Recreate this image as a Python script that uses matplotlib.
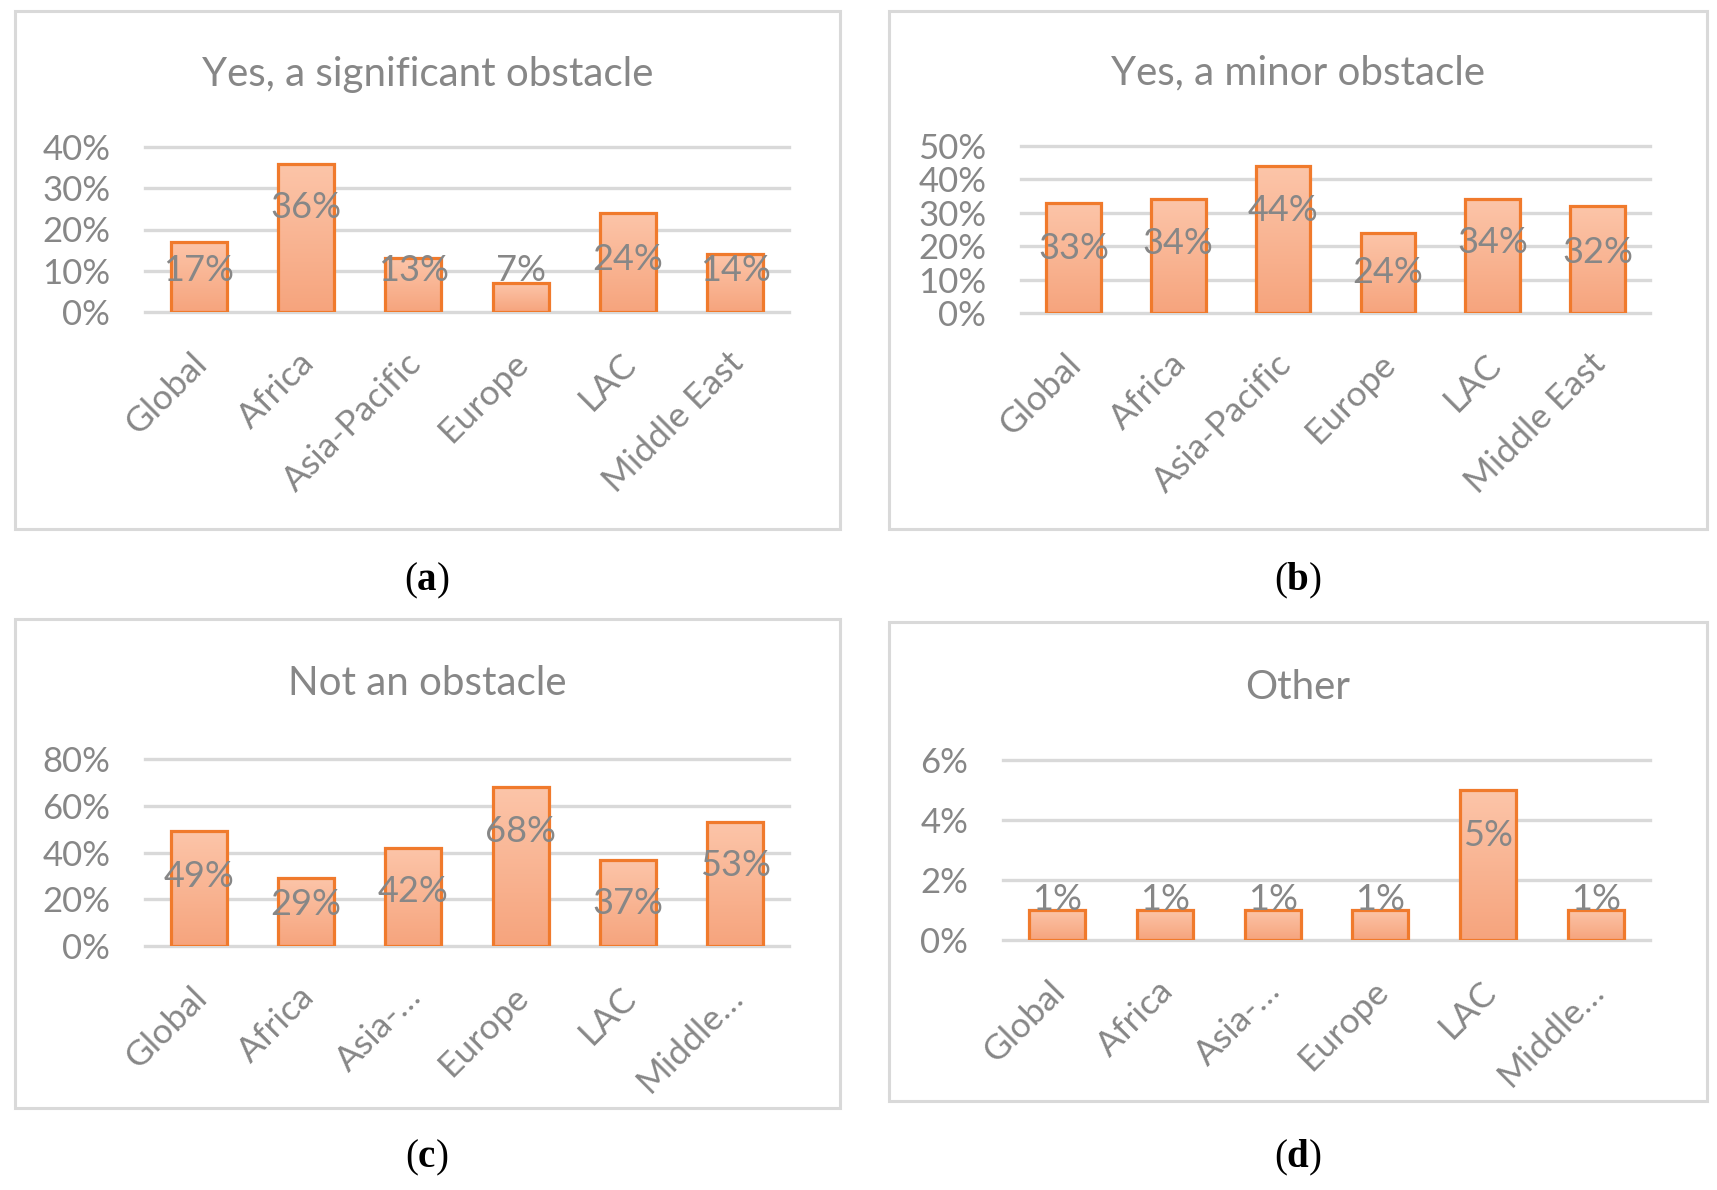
import numpy as np
import matplotlib
matplotlib.use("Agg")
import matplotlib.pyplot as plt
from matplotlib.patches import Rectangle
from matplotlib.colors import LinearSegmentedColormap
import matplotlib.transforms as mtransforms

plt.rcParams['font.family'] = ['Lato', 'DejaVu Sans']
plt.rcParams['mathtext.fontset'] = 'custom'
plt.rcParams['mathtext.rm'] = 'Liberation Serif'
plt.rcParams['mathtext.bf'] = 'Liberation Serif:bold'

# ---------------- data ----------------
regions_full = ["Global", "Africa", "Asia-Pacific", "Europe", "LAC", "Middle East"]
regions_short = ["Global", "Africa", "Asia-…", "Europe", "LAC", "Middle…"]
significant = [17, 36, 13, 7, 24, 14]
minor = [33, 34, 44, 24, 34, 32]
not_obstacle = [49, 29, 42, 68, 37, 53]
other = [1, 1, 1, 1, 5, 1]
titles = ["Yes, a significant obstacle", "Yes, a minor obstacle", "Not an obstacle", "Other"]
yticks_a = [0, 10, 20, 30, 40]
yticks_b = [0, 10, 20, 30, 40, 50]
yticks_c = [0, 20, 40, 60, 80]
yticks_d = [0, 2, 4, 6]
sublabels = ["a", "b", "c", "d"]

# data-label heights (as placed in the original chart), in % units
labpos_a = [10.1, 25.3, 10.1, 10.1, 12.8, 10.1]
labpos_b = [19.3, 20.9, 30.8, 12.2, 21.1, 18.1]
labpos_c = [29.8, 17.8, 23.2, 49.1, 18.0, 34.4]
labpos_d = [1.36, 1.36, 1.36, 1.36, 3.47, 1.36]

# ---------------- layout (figure pixels) ----------------
W, H = 1717, 1190
TXT = '#878787'
GRID = '#d9d9d9'
EDGE = '#f07a2c'
cmap = LinearSegmentedColormap.from_list('bar', ['#f6a47d', '#fcc5a9'])

panels = [
    dict(vals=significant, cats=regions_full, yt=yticks_a, lab=labpos_a, title=titles[0], sub=sublabels[0],
         ax=(145, 789, 312, 147), frame=(15, 840, 11, 529), tb=86, sub_xy=(427, 590)),
    dict(vals=minor, cats=regions_full, yt=yticks_b, lab=labpos_b, title=titles[1], sub=sublabels[1],
         ax=(1021, 1650, 313, 146), frame=(889, 1707, 11, 529), tb=84, sub_xy=(1298, 590)),
    dict(vals=not_obstacle, cats=regions_short, yt=yticks_c, lab=labpos_c, title=titles[2], sub=sublabels[2],
         ax=(145, 789, 946, 759), frame=(15, 840, 619, 1108), tb=695, sub_xy=(427, 1167)),
    dict(vals=other, cats=regions_short, yt=yticks_d, lab=labpos_d, title=titles[3], sub=sublabels[3],
         ax=(1003, 1650, 940, 760), frame=(889, 1707, 622, 1101), tb=699, sub_xy=(1298, 1167)),
]

fig = plt.figure(figsize=(W / 100, H / 100), dpi=100)
fig.patch.set_facecolor('white')

grad = np.linspace(0, 1, 256).reshape(-1, 1)

for p in panels:
    fx0, fx1, fy0, fy1 = p['frame']
    fig.add_artist(Rectangle((fx0 / W, 1 - fy1 / H), (fx1 - fx0) / W, (fy1 - fy0) / H,
                             transform=fig.transFigure, fill=False, edgecolor='#d9d9d9',
                             linewidth=2.2, zorder=0))
    x0, x1, yb, yt = p['ax']
    ax = fig.add_axes([x0 / W, 1 - yb / H, (x1 - x0) / W, (yb - yt) / H])
    ax.set_facecolor('none')
    n = len(p['vals'])
    for s in ax.spines.values():
        s.set_visible(False)
    ax.set_yticks(p['yt'])
    ax.set_yticklabels([f"{t}%" for t in p['yt']])
    ax.tick_params(axis='y', length=0, pad=25, labelsize=25, labelcolor=TXT)
    ax.set_xticks([])
    for t in p['yt']:
        ax.axhline(t, color=GRID, linewidth=2.4, zorder=1, clip_on=False)
    bw = 0.52
    for i, v in enumerate(p['vals']):
        rect = Rectangle((i - bw / 2, 0), bw, v, facecolor='none', edgecolor=EDGE,
                         linewidth=2.3, zorder=4)
        ax.add_patch(rect)
        im = ax.imshow(grad, cmap=cmap, aspect='auto', origin='lower',
                       extent=(i - bw / 2, i + bw / 2, 0, v), zorder=3)
        im.set_clip_path(rect)
        ax.text(i, p['lab'][i], f"{v}%", ha='center', va='center', fontsize=26,
                color=TXT, zorder=5)
    offs = mtransforms.offset_copy(ax.transData, fig=fig, x=-6, y=-25, units='points')
    for i, c in enumerate(p['cats']):
        ax.text(i, 0, c, rotation=45, ha='right', va='top', rotation_mode='anchor',
                fontsize=25.5, color=TXT, transform=offs)
    ax.set_aspect('auto')
    ax.set_xlim(-0.5, n - 0.5)
    ax.set_ylim(0, p['yt'][-1])
    fcx = (fx0 + fx1) / 2
    fig.text(fcx / W, 1 - p['tb'] / H, p['title'], ha='center', va='baseline',
             fontsize=29, color=TXT)
    sx, sy = p['sub_xy']
    fig.text(sx / W, 1 - sy / H, r"($\mathbf{" + p['sub'] + r"}$)", ha='center', va='baseline',
             fontsize=28, color='black', family='Liberation Serif')

fig.savefig('out.png', dpi=100)
